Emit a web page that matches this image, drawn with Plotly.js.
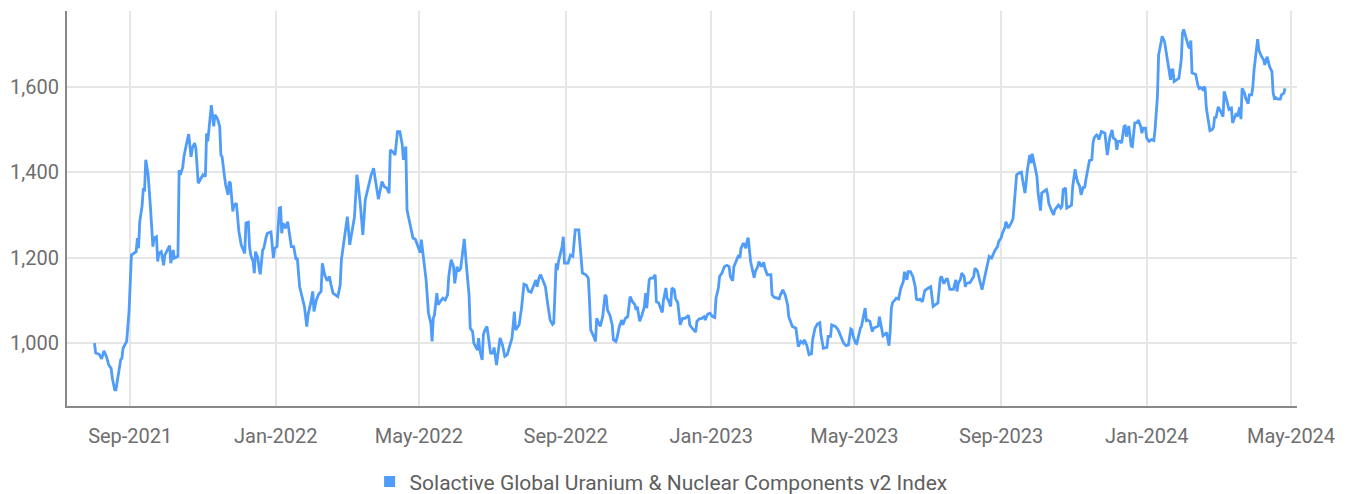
<!DOCTYPE html>
<html>
<head>
<meta charset="utf-8">
<script src="https://cdn.plot.ly/plotly-3.0.1.min.js"></script>
<style>
html,body{margin:0;padding:0;background:#fff;}
#chart{width:1349px;height:494px;}
</style>
</head>
<body>
<div id="chart"></div>
<script>
const seriesName = "Solactive Global Uranium & Nuclear Components v2 Index";

const dates = [
"2021-08-02","2021-08-03","2021-08-06","2021-08-08","2021-08-10","2021-08-12","2021-08-14","2021-08-16","2021-08-17","2021-08-19",
"2021-08-20","2021-08-22","2021-08-24","2021-08-25","2021-08-26","2021-08-29","2021-08-31","2021-09-02","2021-09-04","2021-09-06",
"2021-09-07","2021-09-08","2021-09-09","2021-09-11","2021-09-12","2021-09-13","2021-09-14","2021-09-16","2021-09-18","2021-09-20",
"2021-09-21","2021-09-23","2021-09-24","2021-09-25","2021-09-27","2021-09-29","2021-09-30","2021-10-02","2021-10-04","2021-10-05",
"2021-10-07","2021-10-08","2021-10-11","2021-10-12","2021-10-13","2021-10-15","2021-10-16","2021-10-18","2021-10-20","2021-10-22",
"2021-10-23","2021-10-25","2021-10-26","2021-10-28","2021-10-30","2021-11-01","2021-11-03","2021-11-04","2021-11-05","2021-11-07",
"2021-11-08","2021-11-10","2021-11-11","2021-11-13","2021-11-15","2021-11-16","2021-11-17","2021-11-19","2021-11-20","2021-11-22",
"2021-11-23","2021-11-24","2021-11-26","2021-11-27","2021-11-29","2021-11-30","2021-12-01","2021-12-03","2021-12-05","2021-12-06",
"2021-12-07","2021-12-09","2021-12-10","2021-12-11","2021-12-13","2021-12-14","2021-12-15","2021-12-17","2021-12-18","2021-12-19",
"2021-12-21","2021-12-22","2021-12-24","2021-12-25","2021-12-28","2021-12-30","2021-12-31","2022-01-02","2022-01-04","2022-01-05",
"2022-01-06","2022-01-07","2022-01-09","2022-01-11","2022-01-14","2022-01-16","2022-01-18","2022-01-19","2022-01-21","2022-01-23",
"2022-01-25","2022-01-27","2022-01-28","2022-01-30","2022-02-01","2022-02-02","2022-02-04","2022-02-06","2022-02-08","2022-02-09",
"2022-02-11","2022-02-13","2022-02-15","2022-02-16","2022-02-18","2022-02-22","2022-02-24","2022-02-25","2022-02-27","2022-03-02",
"2022-03-04","2022-03-06","2022-03-08","2022-03-10","2022-03-11","2022-03-13","2022-03-15","2022-03-17","2022-03-19","2022-03-22",
"2022-03-24","2022-03-26","2022-03-28","2022-03-31","2022-04-02","2022-04-04","2022-04-06","2022-04-07","2022-04-09","2022-04-11",
"2022-04-13","2022-04-15","2022-04-17","2022-04-18","2022-04-20","2022-04-21","2022-04-23","2022-04-24","2022-04-26","2022-04-28",
"2022-04-30","2022-05-02","2022-05-03","2022-05-04","2022-05-07","2022-05-09","2022-05-11","2022-05-12","2022-05-13","2022-05-14",
"2022-05-16","2022-05-17","2022-05-19","2022-05-21","2022-05-23","2022-05-25","2022-05-26","2022-05-28","2022-05-30","2022-05-31",
"2022-06-02","2022-06-03","2022-06-05","2022-06-08","2022-06-10","2022-06-12","2022-06-13","2022-06-15","2022-06-16","2022-06-18",
"2022-06-19","2022-06-20","2022-06-21","2022-06-23","2022-06-24","2022-06-25","2022-06-27","2022-06-28","2022-06-30","2022-07-02",
"2022-07-03","2022-07-05","2022-07-07","2022-07-08","2022-07-10","2022-07-12","2022-07-14","2022-07-16","2022-07-18","2022-07-20",
"2022-07-21","2022-07-22","2022-07-24","2022-07-26","2022-07-28","2022-07-30","2022-08-01","2022-08-03","2022-08-05","2022-08-07",
"2022-08-08","2022-08-10","2022-08-11","2022-08-13","2022-08-15","2022-08-17","2022-08-19","2022-08-21","2022-08-22","2022-08-24",
"2022-08-25","2022-08-26","2022-08-29","2022-08-30","2022-08-31","2022-09-03","2022-09-05","2022-09-07","2022-09-08","2022-09-09",
"2022-09-12","2022-09-13","2022-09-14","2022-09-15","2022-09-18","2022-09-20","2022-09-21","2022-09-22","2022-09-25","2022-09-26",
"2022-09-27","2022-09-29","2022-09-30","2022-10-02","2022-10-04","2022-10-05","2022-10-06","2022-10-08","2022-10-10","2022-10-11",
"2022-10-13","2022-10-14","2022-10-16","2022-10-18","2022-10-19","2022-10-21","2022-10-23","2022-10-25","2022-10-27","2022-10-29",
"2022-10-30","2022-10-31","2022-11-02","2022-11-04","2022-11-06","2022-11-07","2022-11-08","2022-11-10","2022-11-11","2022-11-13",
"2022-11-15","2022-11-16","2022-11-18","2022-11-20","2022-11-21","2022-11-22","2022-11-24","2022-11-25","2022-11-26","2022-11-28",
"2022-11-29","2022-12-01","2022-12-02","2022-12-04","2022-12-06","2022-12-08","2022-12-10","2022-12-13","2022-12-14","2022-12-16",
"2022-12-19","2022-12-20","2022-12-22","2022-12-24","2022-12-26","2022-12-27","2022-12-29","2022-12-31","2023-01-02","2023-01-04",
"2023-01-05","2023-01-07","2023-01-08","2023-01-10","2023-01-12","2023-01-14","2023-01-16","2023-01-17","2023-01-19","2023-01-20",
"2023-01-22","2023-01-24","2023-01-25","2023-01-26","2023-01-28","2023-01-30","2023-01-31","2023-02-01","2023-02-03","2023-02-04",
"2023-02-06","2023-02-07","2023-02-09","2023-02-10","2023-02-12","2023-02-14","2023-02-15","2023-02-17","2023-02-20","2023-02-21",
"2023-02-23","2023-02-27","2023-02-28","2023-03-02","2023-03-04","2023-03-06","2023-03-07","2023-03-08","2023-03-10","2023-03-13",
"2023-03-14","2023-03-15","2023-03-17","2023-03-19","2023-03-20","2023-03-22","2023-03-24","2023-03-26","2023-03-27","2023-03-29",
"2023-03-31","2023-04-02","2023-04-03","2023-04-05","2023-04-08","2023-04-09","2023-04-11","2023-04-12","2023-04-15","2023-04-17",
"2023-04-18","2023-04-20","2023-04-22","2023-04-24","2023-04-26","2023-04-28","2023-04-29","2023-04-30","2023-05-02","2023-05-03",
"2023-05-05","2023-05-06","2023-05-07","2023-05-09","2023-05-10","2023-05-11","2023-05-12","2023-05-14","2023-05-16","2023-05-17",
"2023-05-19","2023-05-21","2023-05-22","2023-05-24","2023-05-25","2023-05-26","2023-05-28","2023-05-30","2023-05-31","2023-06-01",
"2023-06-02","2023-06-04","2023-06-05","2023-06-07","2023-06-08","2023-06-09","2023-06-11","2023-06-12","2023-06-14","2023-06-15",
"2023-06-17","2023-06-19","2023-06-21","2023-06-22","2023-06-24","2023-06-25","2023-06-27","2023-06-28","2023-06-29","2023-07-02",
"2023-07-04","2023-07-05","2023-07-06","2023-07-08","2023-07-10","2023-07-12","2023-07-13","2023-07-15","2023-07-17","2023-07-18",
"2023-07-20","2023-07-23","2023-07-25","2023-07-26","2023-07-27","2023-07-29","2023-07-30","2023-08-01","2023-08-02","2023-08-03",
"2023-08-06","2023-08-09","2023-08-10","2023-08-12","2023-08-13","2023-08-15","2023-08-16","2023-08-18","2023-08-20","2023-08-22",
"2023-08-24","2023-08-25","2023-08-27","2023-08-29","2023-08-30","2023-09-01","2023-09-02","2023-09-04","2023-09-05","2023-09-07",
"2023-09-08","2023-09-10","2023-09-11","2023-09-13","2023-09-14","2023-09-16","2023-09-18","2023-09-19","2023-09-21","2023-09-23",
"2023-09-25","2023-09-26","2023-09-27","2023-09-29","2023-10-01","2023-10-02","2023-10-04","2023-10-05","2023-10-07","2023-10-09",
"2023-10-10","2023-10-11","2023-10-13","2023-10-15","2023-10-16","2023-10-19","2023-10-21","2023-10-22","2023-10-23","2023-10-25",
"2023-10-26","2023-10-28","2023-10-30","2023-10-31","2023-11-02","2023-11-03","2023-11-04","2023-11-06","2023-11-07","2023-11-09",
"2023-11-10","2023-11-11","2023-11-13","2023-11-14","2023-11-16","2023-11-17","2023-11-18","2023-11-20","2023-11-21","2023-11-22",
"2023-11-24","2023-11-26","2023-11-27","2023-11-29","2023-11-30","2023-12-01","2023-12-03","2023-12-04","2023-12-06","2023-12-07",
"2023-12-08","2023-12-10","2023-12-11","2023-12-13","2023-12-14","2023-12-15","2023-12-17","2023-12-19","2023-12-20","2023-12-22",
"2023-12-24","2023-12-25","2023-12-27","2023-12-28","2023-12-29","2023-12-31","2024-01-01","2024-01-03","2024-01-05","2024-01-07",
"2024-01-08","2024-01-09","2024-01-10","2024-01-11","2024-01-13","2024-01-14","2024-01-16","2024-01-18","2024-01-19","2024-01-21",
"2024-01-22","2024-01-23","2024-01-24","2024-01-26","2024-01-28","2024-01-30","2024-01-31","2024-02-01","2024-02-03","2024-02-05",
"2024-02-06","2024-02-07","2024-02-08","2024-02-10","2024-02-11","2024-02-13","2024-02-14","2024-02-15","2024-02-17","2024-02-18",
"2024-02-19","2024-02-20","2024-02-21","2024-02-23","2024-02-25","2024-02-26","2024-02-27","2024-02-28","2024-03-01","2024-03-02",
"2024-03-03","2024-03-05","2024-03-06","2024-03-08","2024-03-09","2024-03-10","2024-03-12","2024-03-13","2024-03-15","2024-03-16",
"2024-03-17","2024-03-19","2024-03-20","2024-03-21","2024-03-23","2024-03-24","2024-03-26","2024-03-27","2024-03-29","2024-03-30",
"2024-03-31","2024-04-02","2024-04-03","2024-04-04","2024-04-05","2024-04-06","2024-04-08","2024-04-09","2024-04-11","2024-04-12",
"2024-04-13","2024-04-15","2024-04-16","2024-04-17","2024-04-18","2024-04-20","2024-04-22","2024-04-23","2024-04-25","2024-04-26"
];

const values = [
1000,977,974,963,982,969,949,941,918,891,
891,926,961,965,988,1004,1074,1206,1210,1214,
1246,1222,1284,1323,1363,1355,1429,1394,1316,1226,
1246,1249,1191,1210,1214,1182,1206,1218,1228,1187,
1218,1199,1203,1405,1394,1411,1436,1464,1489,1436,
1456,1468,1456,1374,1386,1394,1390,1491,1472,1520,
1557,1507,1534,1526,1507,1440,1436,1390,1370,1347,
1378,1374,1308,1323,1327,1296,1263,1230,1218,1210,
1281,1283,1226,1206,1191,1164,1214,1199,1175,1161,
1218,1222,1249,1257,1260,1199,1222,1226,1316,1317,
1257,1281,1269,1284,1226,1226,1195,1200,1132,1109,
1086,1039,1066,1090,1121,1074,1101,1115,1121,1187,
1160,1146,1156,1140,1117,1109,1136,1195,1238,1296,
1230,1261,1296,1394,1374,1320,1253,1335,1359,1394,
1409,1370,1337,1378,1366,1363,1351,1452,1448,1440,
1495,1495,1464,1429,1460,1312,1288,1269,1246,1243,
1228,1212,1242,1218,1148,1070,1047,1004,1058,1066,
1117,1090,1097,1105,1101,1113,1156,1195,1179,1140,
1179,1168,1175,1244,1175,1113,1035,1027,1000,988,
984,1012,984,961,1019,1029,1039,1019,977,977,
990,949,984,1012,996,969,973,992,1012,1074,
1031,1035,1043,1082,1138,1136,1121,1119,1136,1148,
1132,1156,1160,1144,1132,1090,1054,1044,1047,1187,
1171,1191,1226,1249,1187,1187,1206,1203,1246,1265,
1265,1234,1210,1164,1160,1152,1097,1031,1012,1004,
1058,1047,1039,1062,1113,1109,1078,1066,1043,1008,
1004,1012,1039,1054,1043,1058,1062,1109,1097,1090,
1078,1086,1051,1066,1086,1117,1082,1148,1152,1152,
1160,1097,1094,1078,1072,1101,1129,1105,1101,1086,
1129,1125,1105,1094,1043,1058,1058,1065,1043,1035,
1026,1051,1057,1058,1062,1054,1068,1070,1062,1060,
1105,1129,1156,1164,1179,1182,1179,1156,1146,1179,
1195,1206,1199,1222,1234,1222,1238,1247,1191,1175,
1153,1168,1179,1191,1179,1189,1175,1160,1160,1113,
1107,1104,1113,1125,1113,1090,1062,1054,1039,1035,
1004,992,1004,1000,1008,996,973,975,1008,1035,
1045,1048,1019,988,990,1016,1016,1043,1039,1033,
1027,1014,1000,994,996,1033,1031,1016,1000,999,
1027,1035,1040,1066,1082,1053,1054,1051,1027,1035,
1037,1040,1062,1027,1017,1019,1025,994,1027,1082,
1095,1101,1105,1103,1118,1129,1144,1167,1148,1167,
1167,1156,1132,1103,1101,1103,1097,1109,1123,1129,
1132,1109,1086,1090,1094,1152,1156,1139,1150,1150,
1126,1126,1148,1121,1139,1150,1164,1156,1132,1140,
1142,1156,1175,1170,1160,1136,1125,1152,1179,1203,
1199,1206,1218,1226,1238,1246,1257,1269,1284,1269,
1273,1284,1292,1351,1394,1398,1400,1382,1351,1405,
1440,1421,1443,1417,1390,1351,1310,1351,1355,1359,
1347,1327,1312,1300,1312,1323,1316,1320,1359,1363,
1316,1320,1323,1366,1407,1390,1378,1366,1347,1366,
1363,1382,1409,1427,1429,1468,1480,1487,1485,1476,
1495,1491,1491,1440,1464,1480,1499,1480,1476,1452,
1472,1472,1468,1507,1508,1483,1508,1461,1460,1515,
1516,1522,1507,1491,1503,1503,1480,1472,1476,1474,
1499,1546,1576,1674,1700,1718,1705,1670,1643,1616,
1639,1639,1612,1616,1620,1663,1725,1734,1713,1694,
1690,1708,1632,1630,1629,1602,1596,1598,1593,1600,
1596,1550,1530,1497,1500,1505,1530,1526,1553,1546,
1542,1530,1589,1569,1555,1547,1550,1515,1530,1538,
1530,1552,1524,1596,1585,1573,1560,1581,1581,1600,
1639,1686,1711,1686,1678,1672,1663,1651,1670,1659,
1647,1635,1585,1573,1575,1571,1571,1581,1585,1596
];

const xRange = ["2021-07-10", "2024-05-06"];
const yRange = [853, 1777];
const yTicks = [1000, 1200, 1400, 1600];

const FONT = "Roboto, 'Open Sans', sans-serif";
const lineColor = "#4f9cf9";

const traces = [
  {
    x: dates, y: values, type: "scatter", mode: "lines",
    line: {color: lineColor, width: 2.8},
    showlegend: false, hoverinfo: "x+y"
  },
  {
    x: [null], y: [null], type: "scatter", mode: "markers",
    name: seriesName,
    marker: {symbol: "square", size: 11, color: lineColor},
    showlegend: true
  }
];

const layout = {
  width: 1349, height: 494,
  margin: {l: 67, r: 52, t: 11, b: 88, autoexpand: false},
  paper_bgcolor: "#fff", plot_bgcolor: "#fff",
  font: {family: FONT, size: 20, color: "#666"},
  xaxis: {
    type: "date",
    range: xRange,
    tick0: "2021-09-01", dtick: "M4",
    tickformat: "%b-%Y",
    showgrid: true, gridcolor: "#e6e6e6", gridwidth: 2,
    showline: true, linecolor: "#888", linewidth: 2,
    ticks: "outside", ticklen: 11, tickcolor: "rgba(0,0,0,0)",
    tickfont: {family: FONT, size: 20, color: "#6e6e6e"},
    zeroline: false, fixedrange: true
  },
  yaxis: {
    range: yRange,
    tickvals: yTicks,
    tickformat: ",d",
    showgrid: true, gridcolor: "#e6e6e6", gridwidth: 2,
    showline: true, linecolor: "#888", linewidth: 2,
    ticks: "outside", ticklen: 2, tickcolor: "rgba(0,0,0,0)",
    tickfont: {family: FONT, size: 20, color: "#6e6e6e"},
    zeroline: false, fixedrange: true
  },
  legend: {
    orientation: "h", x: 0.483, xanchor: "center", y: -0.192, yanchor: "middle",
    font: {family: FONT, size: 21, color: "#5e5e5e"},
    itemwidth: 30, bgcolor: "rgba(0,0,0,0)"
  },
  showlegend: true
};

Plotly.newPlot("chart", traces, layout, {displayModeBar: false, staticPlot: true});
</script>
</body>
</html>
